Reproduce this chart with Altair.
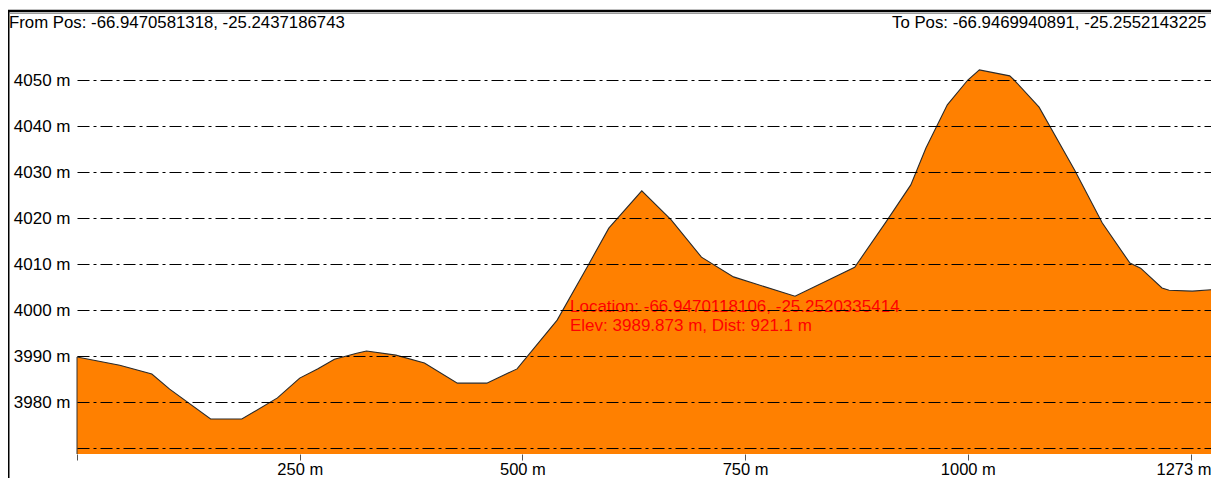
import altair as alt
import pandas as pd

# distance along profile (m) and elevation (m)
dist = [0, 48, 84, 104, 150, 185, 225, 250, 270, 289, 314, 325, 358, 390, 427, 460,
        494, 530, 539, 574, 597, 634, 667, 701, 737, 806, 873, 908, 936, 953, 977,
        1000, 1013, 1047, 1052, 1080, 1120, 1151, 1182, 1194, 1218, 1226, 1252, 1273]
elev = [3989.8, 3988.0, 3986.1, 3982.8, 3976.3, 3976.3, 3980.9, 3985.2, 3987.2, 3989.3,
        3990.6, 3991.1, 3990.2, 3988.5, 3984.1, 3984.1, 3987.2, 3995.7, 3997.8, 4009.8,
        4017.8, 4025.9, 4019.6, 4011.5, 4007.2, 4003.0, 4009.3, 4019.1, 4027.2, 4035.2,
        4044.6, 4050.0, 4052.2, 4050.9, 4050.0, 4044.1, 4030.4, 4018.9, 4010.2, 4009.1,
        4004.8, 4004.3, 4004.1, 4004.4]

x_ticks = [0, 250, 500, 750, 1000, 1250, 1273]
y_ticks = [3970, 3980, 3990, 4000, 4010, 4020, 4030, 4040, 4050]

from_text = "From Pos: -66.9470581318, -25.2437186743"
to_text = "To Pos: -66.9469940891, -25.2552143225"
loc_text = "Location: -66.9470118106, -25.2520335414"
elev_text = "Elev: 3989.873 m, Dist: 921.1 m"

FONT = "Liberation Sans"
X_DOMAIN = [0, 1273]
Y_DOMAIN = [3968.7, 4064.35]

df = pd.DataFrame({"dist": dist, "elev": elev})

x_enc = alt.X(
    "dist:Q",
    scale=alt.Scale(domain=X_DOMAIN, nice=False, zero=False),
    axis=alt.Axis(
        values=x_ticks,
        labelExpr="(datum.value == 0 || datum.value == 1250) ? '' : datum.value + ' m'",
        grid=False, domain=False, ticks=True, tickColor="#555555", tickSize=6,
        labelPadding=1, labelFont=FONT, labelFontSize=16.5, labelColor="#000000",
        labelAlign={"condition": {"test": "datum.value == 1273", "value": "right"}, "value": "center"},
        labelOverlap=False, labelFlush=False, labelBound=False, title=None,
    ),
)
y_enc = alt.Y(
    "elev:Q",
    scale=alt.Scale(domain=Y_DOMAIN, nice=False, zero=False),
    axis=alt.Axis(
        values=y_ticks,
        labelExpr="datum.value == 3970 ? '' : datum.value + ' m'",
        grid=True, gridColor="#000000", gridDash=[12, 4, 3, 4], gridWidth=1, gridOpacity=1,
        domain=False, ticks=False, labelPadding=7, labelFont=FONT, labelFontSize=17,
        labelColor="#000000", labelBaseline="middle", title=None, zindex=1,
    ),
)

area = alt.Chart(df).mark_area(color="#FF8000", clip=True, opacity=1).encode(x=x_enc, y=y_enc)
line = alt.Chart(df).mark_line(color="#2a2a2a", strokeWidth=1.1, clip=True).encode(x="dist:Q", y="elev:Q")

edge = alt.Chart(alt.Data(values=[{"d": 0, "e": elev[0], "b": Y_DOMAIN[0]}])).mark_rule(
    color="#333333", strokeWidth=1
).encode(x="d:Q", y="e:Q", y2="b:Q")

def txt(s, x, y, color="#000000", size=16.8):
    return alt.Chart(alt.Data(values=[{"t": s}])).mark_text(
        align="left", baseline="alphabetic", font=FONT, fontSize=size, color=color
    ).encode(x=alt.value(x), y=alt.value(y), text="t:N")

t_from = txt(from_text, -68, 14)
t_to = txt(to_text, 815, 14)
t_loc = txt(loc_text, 493, 297.5, color="#FF0000", size=17)
t_elev = txt(elev_text, 493, 317, color="#FF0000", size=17)

frame_top = alt.Chart(alt.Data(values=[{"a": 1}])).mark_rule(color="#000000", strokeWidth=2.5).encode(
    x=alt.value(-69), x2=alt.value(1150), y=alt.value(-3)
)
frame_top2 = alt.Chart(alt.Data(values=[{"a": 1}])).mark_rule(color="#9a9a9a", strokeWidth=1).encode(
    x=alt.value(-67), x2=alt.value(1150), y=alt.value(-0.5)
)
frame_left = alt.Chart(alt.Data(values=[{"a": 1}])).mark_rule(color="#000000", strokeWidth=2).encode(
    x=alt.value(-68.5), y=alt.value(-4), y2=alt.value(480)
)

chart = alt.layer(
    area, line, edge, t_from, t_to, t_loc, t_elev, frame_top, frame_top2, frame_left
).properties(
    width=1134, height=440,
    autosize=alt.AutoSizeParams(type="none"),
    padding={"left": 69, "top": 6, "right": 0, "bottom": 24},
    background="#ffffff",
).configure_view(stroke=None)

chart.save("out.html", embed_options={"renderer": "svg", "actions": False})
